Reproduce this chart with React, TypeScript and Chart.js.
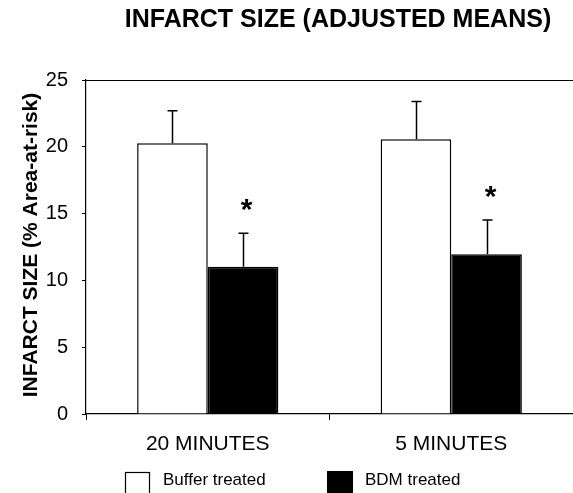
import React, { useEffect, useRef } from "react";
import { Chart, registerables } from "chart.js";

Chart.register(...registerables);

const categories = ["20 MINUTES", "5 MINUTES"];
const seriesNames = ["Buffer treated", "BDM treated"];
const bufferMeans = [20.26, 20.56];
const bdmMeans = [11.03, 11.95];
const bufferErr = [2.44, 2.84];
const bdmErr = [2.49, 2.57];
const bdmSignificant = [true, true];
const yTicks = [0, 5, 10, 15, 20, 25];
const titleText = "INFARCT SIZE (ADJUSTED MEANS)";
const yAxisLabel = "INFARCT SIZE (% Area-at-risk)";

const FONT = "'Liberation Sans', Arial, Helvetica, sans-serif";

const decorPlugin = {
  id: "decor",
  afterDatasetsDraw(chart: any) {
    const ctx: CanvasRenderingContext2D = chart.ctx;
    const ya = chart.scales.y;
    const area = chart.chartArea;
    ctx.save();
    ctx.strokeStyle = "#000";
    ctx.fillStyle = "#000";
    // top frame line
    ctx.lineWidth = 1.2;
    ctx.beginPath();
    ctx.moveTo(area.left, Math.round(area.top) + 0.5);
    ctx.lineTo(area.right, Math.round(area.top) + 0.5);
    ctx.stroke();

    const means = [bufferMeans, bdmMeans];
    const errs = [bufferErr, bdmErr];
    chart.data.datasets.forEach((_ds: any, di: number) => {
      const meta = chart.getDatasetMeta(di);
      meta.data.forEach((bar: any, i: number) => {
        const x = Math.round(bar.x) + 0.5;
        const y0 = ya.getPixelForValue(means[di][i]);
        const y1 = ya.getPixelForValue(means[di][i] + errs[di][i]);
        ctx.lineWidth = 1.5;
        ctx.strokeStyle = "#000";
        ctx.beginPath();
        ctx.moveTo(x, y0);
        ctx.lineTo(x, y1);
        ctx.moveTo(x - 5, y1);
        ctx.lineTo(x + 5, y1);
        ctx.stroke();
        if (di === 1 && bdmSignificant[i]) {
          const size = 30;
          ctx.font = `bold ${size}px ${FONT}`;
          ctx.textAlign = "center";
          ctx.textBaseline = "alphabetic";
          const cy = y1 - 31;
          ctx.fillText("*", x + 3, cy + 0.553 * size);
        }
      });
    });
    ctx.restore();
  },
  afterDraw(chart: any) {
    const ctx: CanvasRenderingContext2D = chart.ctx;
    ctx.save();
    ctx.fillStyle = "#000";
    ctx.strokeStyle = "#000";
    // title
    ctx.font = `bold 25px ${FONT}`;
    ctx.textAlign = "center";
    ctx.textBaseline = "alphabetic";
    ctx.fillText(titleText, 338, 27);
    // y axis label
    ctx.save();
    ctx.translate(36.5, 245);
    ctx.rotate(-Math.PI / 2);
    ctx.font = `bold 21px ${FONT}`;
    ctx.textAlign = "center";
    ctx.textBaseline = "alphabetic";
    ctx.fillText(yAxisLabel, 0, 0);
    ctx.restore();
    // legend
    ctx.lineWidth = 1.2;
    ctx.fillStyle = "#fff";
    ctx.fillRect(125.5, 472.5, 24, 26);
    ctx.strokeRect(125.5, 472.5, 24, 26);
    ctx.fillStyle = "#000";
    ctx.fillRect(327, 471, 26, 26);
    ctx.font = `17px ${FONT}`;
    ctx.textAlign = "left";
    ctx.textBaseline = "alphabetic";
    ctx.fillText(seriesNames[0], 163, 485);
    ctx.fillText(seriesNames[1], 365, 485);
    ctx.restore();
  },
};

export default function App() {
  const ref = useRef<HTMLCanvasElement | null>(null);
  useEffect(() => {
    if (!ref.current) return;
    const chart = new Chart(ref.current, {
      type: "bar",
      data: {
        labels: categories,
        datasets: [
          {
            label: seriesNames[0],
            data: bufferMeans,
            backgroundColor: "#ffffff",
            borderColor: "#000000",
            borderWidth: 1.5,
            categoryPercentage: 0.58,
            barPercentage: 1.0,
          },
          {
            label: seriesNames[1],
            data: bdmMeans,
            backgroundColor: "#000000",
            borderColor: "#000000",
            borderWidth: 1.5,
            categoryPercentage: 0.58,
            barPercentage: 1.0,
          },
        ],
      },
      options: {
        responsive: false,
        animation: false,
        devicePixelRatio: 1,
        layout: { padding: { top: 80, left: 0, right: 0, bottom: 0 } },
        plugins: {
          legend: { display: false },
          tooltip: { enabled: false },
          title: { display: false },
        },
        scales: {
          x: {
            offset: true,
            grid: {
              display: true,
              offset: true,
              drawOnChartArea: false,
              drawTicks: true,
              tickLength: 6,
              color: "#000",
            },
            border: { display: true, color: "#000", width: 1.2 },
            ticks: {
              color: "#000",
              font: { family: FONT, size: 21 },
              padding: 12,
              maxRotation: 0,
            },
            afterFit: (s: any) => {
              s.height = 79;
            },
          },
          y: {
            min: 0,
            max: 25,
            grid: {
              display: true,
              drawOnChartArea: false,
              drawTicks: true,
              tickLength: 4,
              color: "#000",
            },
            border: { display: true, color: "#000", width: 1.2 },
            ticks: {
              color: "#000",
              font: { family: FONT, size: 20 },
              padding: 14,
              stepSize: 5,
            },
            afterBuildTicks: (s: any) => {
              s.ticks = yTicks.map((v) => ({ value: v }));
            },
            afterFit: (s: any) => {
              s.width = 86;
            },
          },
        },
      },
      plugins: [decorPlugin],
    });
    return () => chart.destroy();
  }, []);
  return (
    <div style={{ position: "fixed", left: 0, top: 0, width: 573, height: 493, background: "#fff" }}>
      <canvas ref={ref} width={573} height={493} style={{ display: "block" }} />
    </div>
  );
}
